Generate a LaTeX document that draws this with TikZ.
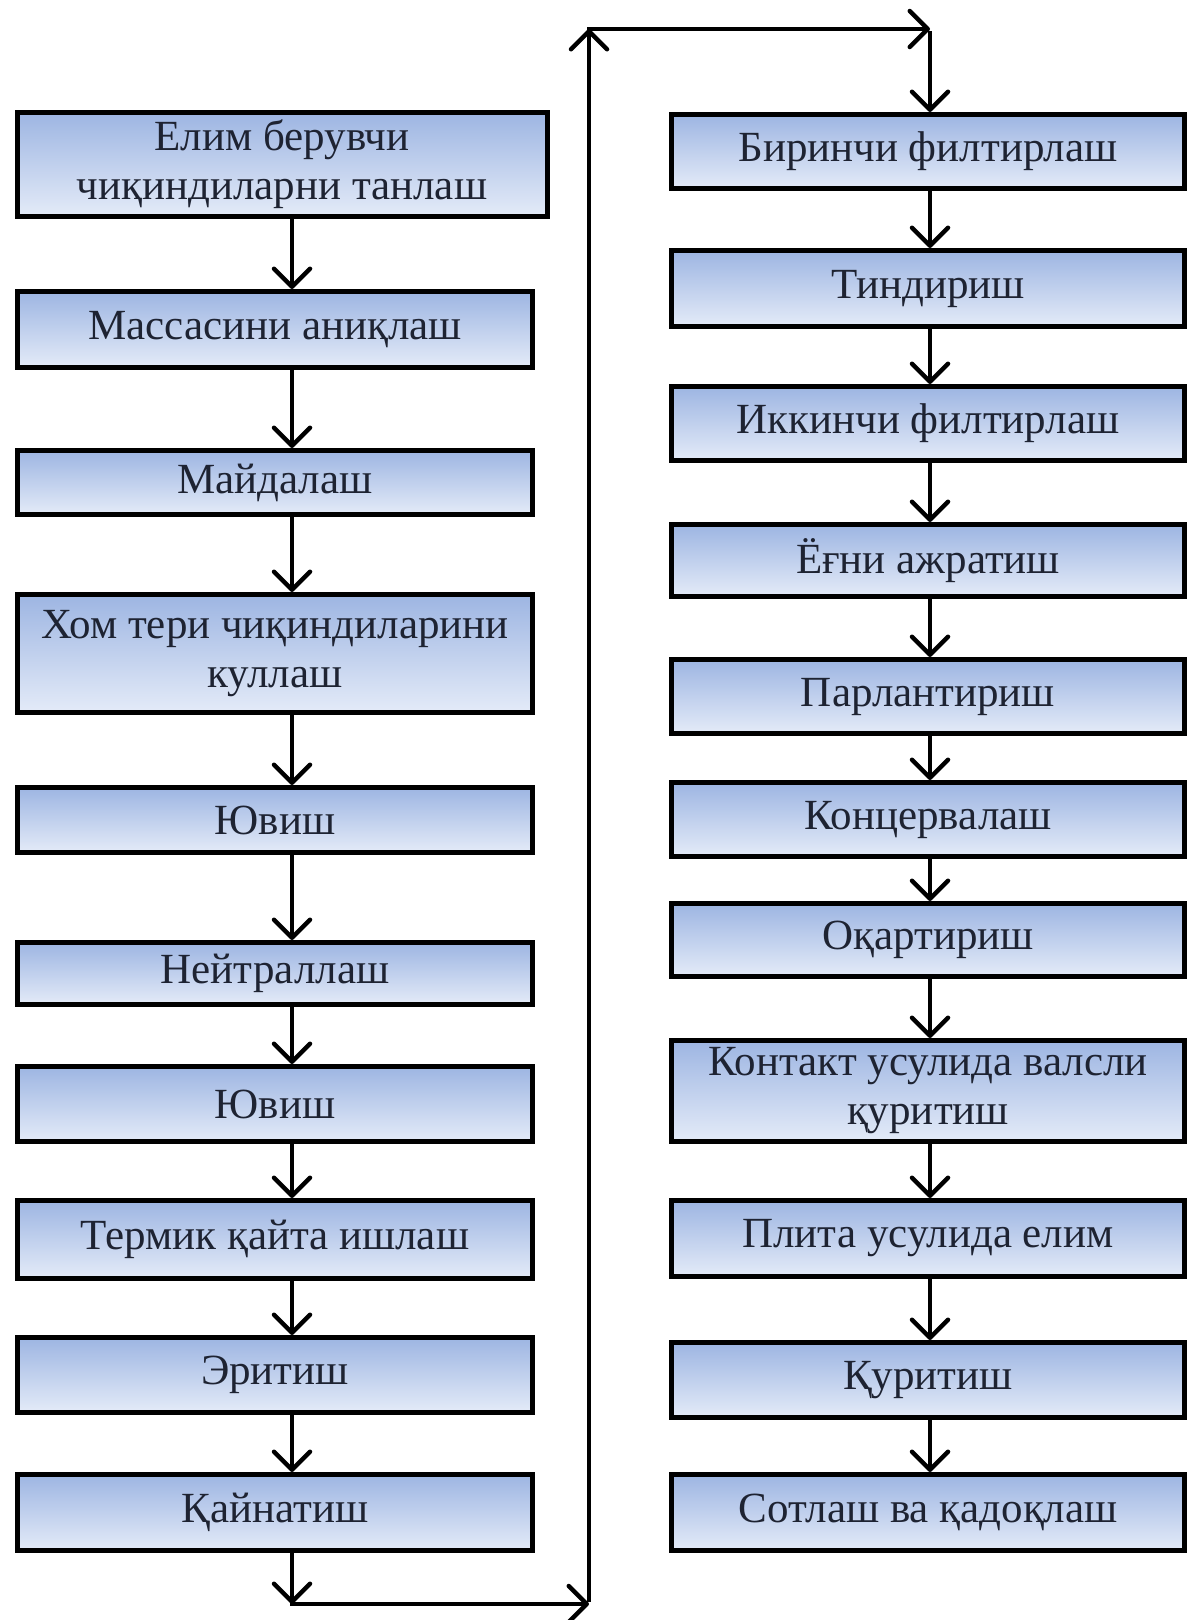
\documentclass[tikz,border=0pt]{standalone}
\usepackage{fontspec}
\setmainfont{Liberation Serif}
\usetikzlibrary{arrows.meta}
\definecolor{boxtop}{HTML}{9DB5E2}
\definecolor{boxbot}{HTML}{E4EBF8}
\definecolor{txt}{HTML}{1E2332}
\tikzset{
  stage/.style={draw=black, line width=5pt, top color=boxtop, bottom color=boxbot,
    inner sep=0pt, align=center, text=txt, font=\fontsize{43}{49}\selectfont},
  lstage/.style={stage, minimum width=515pt},
  rstage/.style={stage, minimum width=513pt},
  arr/.style={line width=4.5pt, -{Straight Barb[length=18pt,width=36pt,round]}},
  plain/.style={line width=4.5pt}
}
\begin{document}
\begin{tikzpicture}[x=1pt,y=-1pt]
\useasboundingbox (0,0) rectangle (1187,1620);
% left column
\node[stage, minimum width=530pt, minimum height=104pt] (L1) at (282,164.5) {Елим берувчи\\чиқиндиларни танлаш};
\node[lstage, minimum height=76pt] (L2) at (275,329.5) {Массасини аниқлаш};
\node[lstage, minimum height=64pt] (L3) at (275,482.5) {Майдалаш};
\node[lstage, minimum height=118pt] (L4) at (275,653.5) {Хом тери чиқиндиларини\\куллаш};
\node[lstage, minimum height=65pt] (L5) at (275,820) {Ювиш};
\node[lstage, minimum height=62pt] (L6) at (275,973.5) {Нейтраллаш};
\node[lstage, minimum height=75pt] (L7) at (275,1104) {Ювиш};
\node[lstage, minimum height=78pt] (L8) at (275,1239.5) {Термик қайта ишлаш};
\node[lstage, minimum height=75pt] (L9) at (275,1375) {Эритиш};
\node[lstage, minimum height=76pt] (L10) at (275,1512.5) {Қайнатиш};
% right column
\node[rstage, minimum height=74pt] (R1) at (928,151.5) {Биринчи филтирлаш};
\node[rstage, minimum height=76pt] (R2) at (928,288.5) {Тиндириш};
\node[rstage, minimum height=74pt] (R3) at (928,423.5) {Иккинчи филтирлаш};
\node[rstage, minimum height=72pt] (R4) at (928,560.5) {Ёғни ажратиш};
\node[rstage, minimum height=74pt] (R5) at (928,696.5) {Парлантириш};
\node[rstage, minimum height=74pt] (R6) at (928,819.5) {Концервалаш};
\node[rstage, minimum height=73pt] (R7) at (928,940) {Оқартириш};
\node[rstage, minimum height=101pt] (R8) at (928,1091) {Контакт усулида валсли\\қуритиш};
\node[rstage, minimum height=76pt] (R9) at (928,1238.5) {Плита усулида елим};
\node[rstage, minimum height=75pt] (R10) at (928,1380) {Қуритиш};
\node[rstage, minimum height=76pt] (R11) at (928,1512.5) {Сотлаш ва қадоқлаш};
% helper coordinates
\coordinate (xL) at (292,0);
\coordinate (xR) at (930,0);
\coordinate (bl) at (292,1604);
\coordinate (br) at (589,1604);
\coordinate (tl) at (589,29);
\coordinate (tr) at (930,29);
% left arrows
\foreach \a/\b in {L1/L2,L2/L3,L3/L4,L4/L5,L5/L6,L6/L7,L7/L8,L8/L9,L9/L10}
  \draw[arr] (\a.south -| xL) -- (\b.north -| xL);
% right arrows
\foreach \a/\b in {R1/R2,R2/R3,R3/R4,R4/R5,R5/R6,R6/R7,R7/R8,R8/R9,R9/R10,R10/R11}
  \draw[arr] (\a.south -| xR) -- (\b.north -| xR);
% connecting loop
\draw[arr] (L10.south -| xL) -- (bl);
\draw[arr] ([xshift=-2pt]bl) -- (br);
\draw[arr] ([yshift=2pt]br) -- (tl);
\draw[arr] ([xshift=-2pt]tl) -- (tr);
\draw[arr] ([yshift=-2pt]tr) -- (R1.north -| xR);
\end{tikzpicture}
\end{document}
